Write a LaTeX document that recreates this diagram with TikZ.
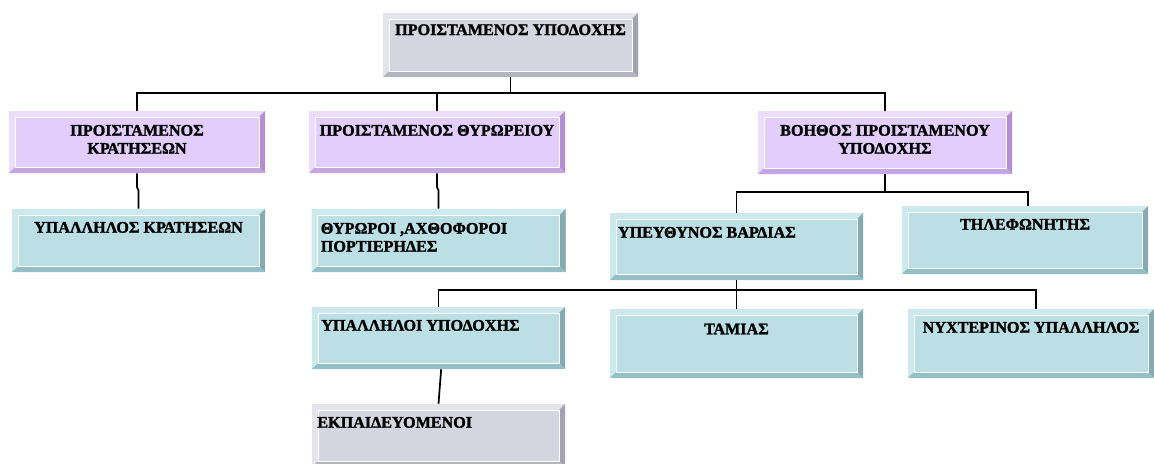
\documentclass[tikz,border=0pt]{standalone}
\usepackage{fontspec}
\setmainfont{Liberation Serif}
\newfontfamily\lblfont{Liberation Serif}[UprightFont={* Bold}, FakeBold=1.6]
\usetikzlibrary{positioning}
\definecolor{grayF}{HTML}{D5D5DF}
\definecolor{grayL}{HTML}{E4E4EC}
\definecolor{grayR}{HTML}{A3A3B0}
\definecolor{grayB}{HTML}{B5B5C2}
\definecolor{lilaF}{HTML}{E3CDFA}
\definecolor{lilaL}{HTML}{ECDDFC}
\definecolor{lilaR}{HTML}{B38FD2}
\definecolor{lilaB}{HTML}{C5A5E3}
\definecolor{tealF}{HTML}{BBDFE4}
\definecolor{tealL}{HTML}{CCE9ED}
\definecolor{tealR}{HTML}{86AAB1}
\definecolor{tealB}{HTML}{95BFC6}
\def\bevw{4.5pt}
\tikzset{
	bevelbox/.style n args={4}{shape=rectangle, fill=#1, inner sep=0pt,
		path picture={
			\coordinate (pa) at (path picture bounding box.north west);
			\coordinate (pb) at (path picture bounding box.north east);
			\coordinate (pc) at (path picture bounding box.south east);
			\coordinate (pd) at (path picture bounding box.south west);
			\coordinate (qa) at ([shift={(\bevw,-\bevw)}]pa);
			\coordinate (qb) at ([shift={(-\bevw,-\bevw)}]pb);
			\coordinate (qc) at ([shift={(-\bevw,\bevw)}]pc);
			\coordinate (qd) at ([shift={(\bevw,\bevw)}]pd);
			\fill[#2] (pa) -- (pb) -- (qb) -- (qa) -- cycle;
			\fill[#2] (pa) -- (qa) -- (qd) -- (pd) -- cycle;
			\fill[#3] (pb) -- (pc) -- (qc) -- (qb) -- cycle;
			\fill[#4] (pd) -- (qd) -- (qc) -- (pc) -- cycle;
			\draw[white, line width=0.6pt] (qa) rectangle (qc);
		}},
	graybox/.style={bevelbox={grayF}{grayL}{grayR}{grayB}},
	lilabox/.style={bevelbox={lilaF}{lilaL}{lilaR}{lilaB}},
	tealbox/.style={bevelbox={tealF}{tealL}{tealR}{tealB}},
	lbl/.style={font=\lblfont\fontsize{12.1}{13.5}\selectfont, inner sep=0pt, align=center},
	lbll/.style={lbl, align=left},
	wire/.style={line width=1.3pt},
}
\begin{document}
\begin{tikzpicture}[x=0.75pt, y=-0.75pt]
	\useasboundingbox (0, 0) rectangle (1154, 464);
	% Boxes:
	\node[graybox, minimum width=191.25pt, minimum height=48pt] (proist) at (510.5, 45){};
	\node[lilabox, minimum width=192pt, minimum height=46.5pt] (krat) at (137, 142){};
	\node[lilabox, minimum width=192pt, minimum height=46.5pt] (thyr) at (437, 142){};
	\node[lilabox, minimum width=190.5pt, minimum height=47.25pt] (voith) at (885, 142.5){};
	\node[tealbox, minimum width=189.75pt, minimum height=47.25pt] (ypkrat) at (138.5, 240.5){};
	\node[tealbox, minimum width=190.5pt, minimum height=47.25pt] (thyrwr) at (438.5, 240.5){};
	\node[tealbox, minimum width=189.75pt, minimum height=50.25pt] (vardia) at (736.5, 246.5){};
	\node[tealbox, minimum width=184.5pt, minimum height=51pt] (tilef) at (1025, 240){};
	\node[tealbox, minimum width=189.75pt, minimum height=46.5pt] (ypdox) at (438.5, 338){};
	\node[tealbox, minimum width=189.75pt, minimum height=51.75pt] (tamias) at (736.5, 343.5){};
	\node[tealbox, minimum width=184.5pt, minimum height=51.75pt] (nyxt) at (1031, 343.5){};
	\node[graybox, minimum width=189.75pt, minimum height=47.25pt] (ekp) at (438.5, 435.5){};
	% Texts:
	\node[lbl, below=8.5pt of proist.north] (proist-t){ΠΡΟΙΣΤΑΜΕΝΟΣ ΥΠΟΔΟΧΗΣ};
	\node[lbl, below=10.5pt of krat.north] (krat-t){ΠΡΟΙΣΤΑΜΕΝΟΣ\\ΚΡΑΤΗΣΕΩΝ};
	\node[lbl, below=10.5pt of thyr.north] (thyr-t){ΠΡΟΙΣΤΑΜΕΝΟΣ ΘΥΡΩΡΕΙΟΥ};
	\node[lbl, below=10.5pt of voith.north] (voith-t){ΒΟΗΘΟΣ ΠΡΟΙΣΤΑΜΕΝΟΥ\\ΥΠΟΔΟΧΗΣ};
	\node[lbl, below=9.75pt of ypkrat.north] (ypkrat-t){ΥΠΑΛΛΗΛΟΣ ΚΡΑΤΗΣΕΩΝ};
	\node[lbll, below right=10.5pt and 7pt of thyrwr.north west] (thyrwr-t){ΘΥΡΩΡΟΙ ,ΑΧΘΟΦΟΡΟΙ\\ΠΟΡΤΙΕΡΗΔΕΣ};
	\node[lbll, below right=10.5pt and 6pt of vardia.north west] (vardia-t){ΥΠΕΥΘΥΝΟΣ ΒΑΡΔΙΑΣ};
	\node[lbl, below=9.75pt of tilef.north] (tilef-t){ΤΗΛΕΦΩΝΗΤΗΣ};
	\node[lbll, below right=9.75pt and 7pt of ypdox.north west] (ypdox-t){ΥΠΑΛΛΗΛΟΙ ΥΠΟΔΟΧΗΣ};
	\node[lbl, below=11pt of tamias.north] (tamias-t){ΤΑΜΙΑΣ};
	\node[lbl, below=9.75pt of nyxt.north] (nyxt-t){ΝΥΧΤΕΡΙΝΟΣ ΥΠΑΛΛΗΛΟΣ};
	\node[lbll, below right=9.75pt and 4pt of ekp.north west] (ekp-t){ΕΚΠΑΙΔΕΥΟΜΕΝΟΙ};
	% Wires:
	\coordinate (bar1) at (510.5, 93);
	\coordinate (bar2) at (885, 192);
	\coordinate (bar3) at (736.5, 290);
	\draw[wire] (proist) -- (bar1);
	\draw[wire] (bar1) -| (krat.north);
	\draw[wire] (bar1) -| (thyr.north);
	\draw[wire] (bar1) -| (voith.north);
	\draw[wire] (krat.south) -- ++(0, 14) -- ++(1.5, 3) -- (ypkrat.north);
	\draw[wire] (thyr.south) -- ++(0, 14) -- ++(1.5, 3) -- (thyrwr.north);
	\draw[wire] (voith) -- (bar2);
	\draw[wire] (bar2) -| (vardia.north);
	\draw[wire] (bar2) -| ([xshift=2.25pt]tilef.north);
	\draw[wire] (vardia) -- (tamias);
	\draw[wire] (bar3) -| (ypdox.north);
	\draw[wire] (bar3) -| ([xshift=3.75pt]nyxt.north);
	\draw[wire] ([xshift=2pt]ypdox.south) -- (ekp.north);
\end{tikzpicture}
\end{document}
